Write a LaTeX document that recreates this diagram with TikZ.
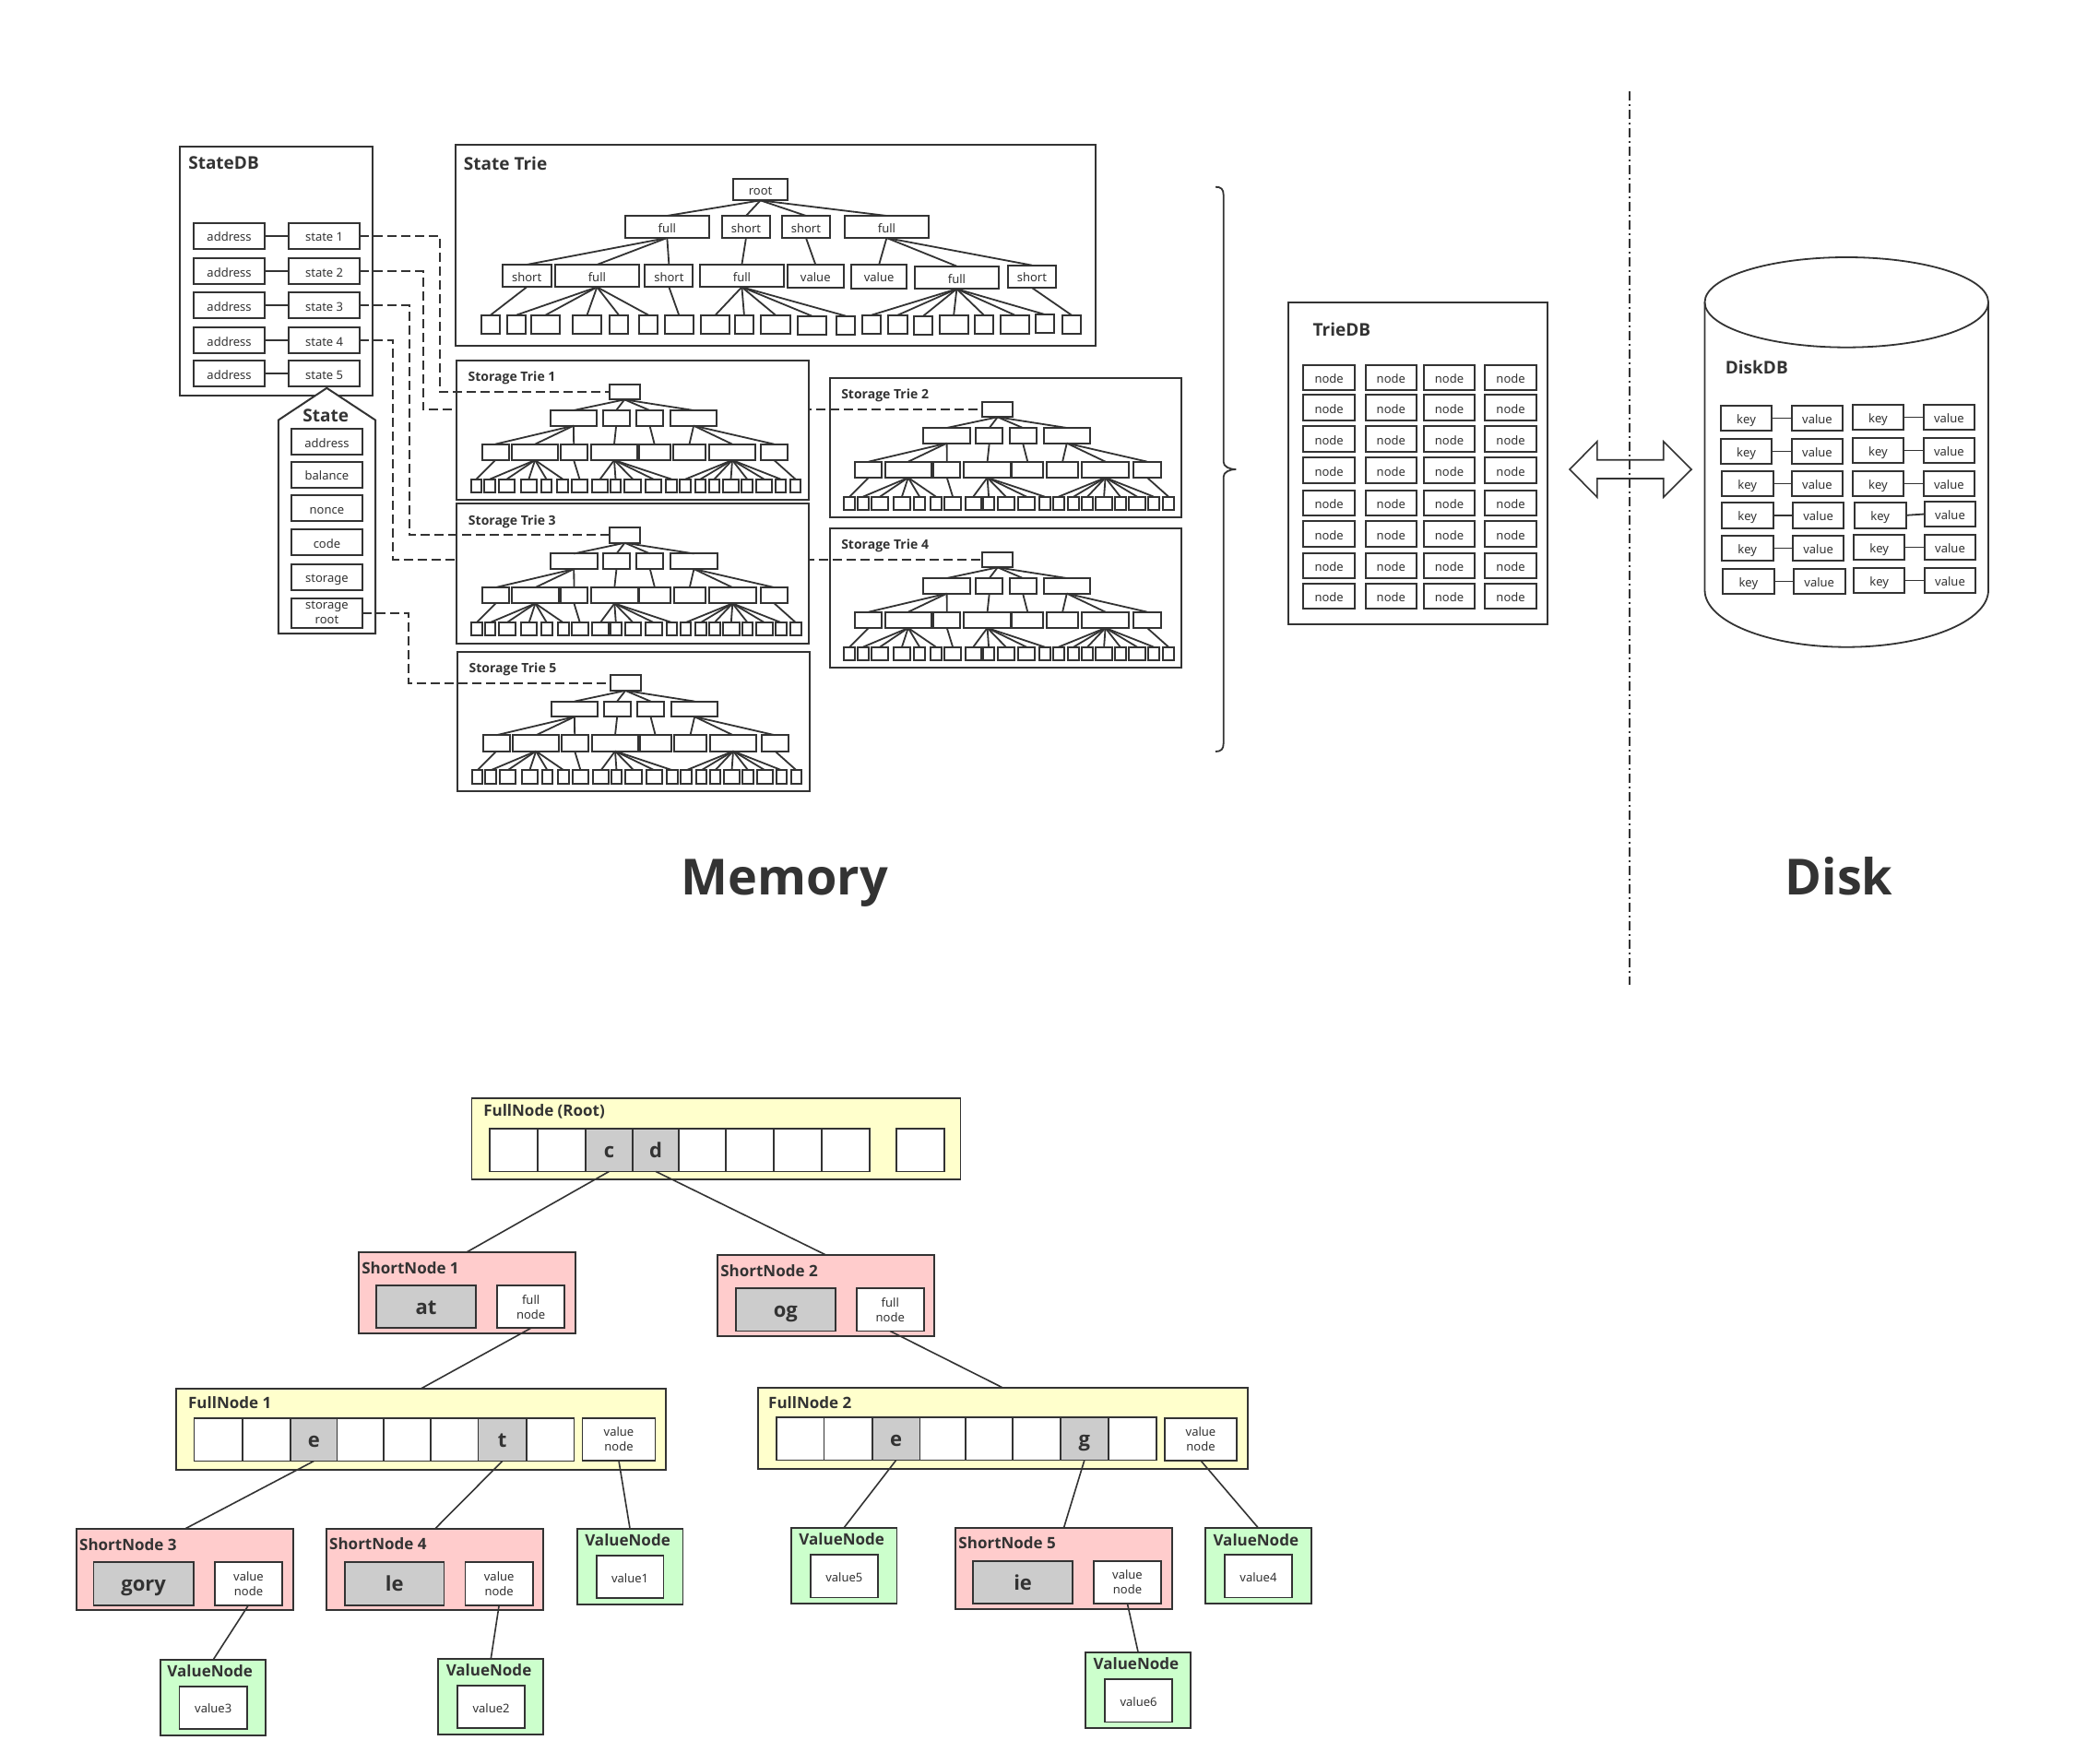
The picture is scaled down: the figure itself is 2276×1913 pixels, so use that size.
\documentclass[tikz,border=0pt]{standalone}
\usepackage{fontspec}
\setmainfont{Noto Sans}[BoldFont={Open Sans Bold}]
\definecolor{lc}{HTML}{333333}
\definecolor{yel}{HTML}{FFFFCC}
\definecolor{pnk}{HTML}{FFCCCC}
\definecolor{grn}{HTML}{CCFFCC}
\definecolor{gry}{HTML}{CCCCCC}
\tikzset{
  plainbox/.style={draw=lc,fill=white,line width=2pt,inner sep=0pt,outer sep=0pt,text=lc,align=center,font=\fontsize{13}{16}\selectfont,text height=12pt,text depth=0pt},
  framebox/.style={plainbox},
  openframe/.style={plainbox,fill=none},
  thinbox/.style={plainbox,line width=1.8pt},
  twoline/.style={plainbox,text height=,text depth=},
  twothin/.style={thinbox,text height=,text depth=},
  yelbox/.style={thinbox,fill=yel},
  pnkbox/.style={thinbox,fill=pnk},
  grnbox/.style={thinbox,fill=grn},
  graybox/.style={thinbox,fill=gry,font=\fontsize{22}{26}\selectfont\bfseries,text height=17pt,text depth=0pt},
  edge/.style={draw=lc,line width=1.8pt},
  thinedge/.style={draw=lc,line width=1.6pt},
  dashline/.style={draw=lc,line width=2pt,dash pattern=on 10pt off 5pt},
  titleA/.style={inner sep=0pt,outer sep=0pt,text=lc,font=\fontsize{19}{22}\selectfont\bfseries},
  titleB/.style={inner sep=0pt,outer sep=0pt,text=lc,font=\fontsize{14}{16}\selectfont\bfseries},
  titleC/.style={inner sep=0pt,outer sep=0pt,text=lc,font=\fontsize{17}{20}\selectfont\bfseries},
  bigtitle/.style={inner sep=0pt,outer sep=0pt,text=lc,font=\fontsize{54}{60}\selectfont\bfseries},
}
% zoom mapping: \setzoom{fx}{fy}{ox}{oy}
\newcommand{\setzoom}[4]{\def\zx{#1}\def\zy{#2}\def\ox{#3}\def\oy{#4}}
\newcommand{\bxx}[7][plainbox]{\def\bxtext{#7}\bxinner[#1]{#2}{#3}{#4}{#5}{#6}}
\newcommand{\bxinner}[6][plainbox]{%
  \pgfmathsetmacro\cxx{\ox+(#3+#5)/2/\zx}%
  \pgfmathsetmacro\cyy{\oy+(#4+#6)/2/\zy}%
  \pgfmathsetmacro\bww{(#5-(#3))/\zx}%
  \pgfmathsetmacro\bhh{(#6-(#4))/\zy}%
  \node[#1,minimum width=\bww pt,minimum height=\bhh pt] (#2) at (\cxx,\cyy) {\bxtext};}
\newcommand{\ttl}[5][titleC]{%
  \pgfmathsetmacro\cxx{\ox+#3/\zx}%
  \pgfmathsetmacro\cyy{\oy+#4/\zy}%
  \node[#1] (#2) at (\cxx,\cyy) {#5};}
\newcommand{\trieedges}[1]{%
  \foreach \pa/\ch in {r/a,r/b,r/c,r/d,a/l0,a/l1,a/l2,b/l3,c/l4,d/l5,d/l6,d/l7,
    l0/lf0,l1/lf1,l1/lf2,l1/lf3,l1/lf4,l1/lf5,l2/lf6,l3/lf7,l3/lf8,l3/lf9,l3/lf10,l3/lf11,
    l6/lf12,l6/lf13,l6/lf14,l6/lf15,l6/lf16,l6/lf17,l6/lf18,l7/lf19}
    {\draw[edge] (#1-\pa.south) -- (#1-\ch.north);}}
% storage trie: prefix, dx, dy, title
\newcommand{\strie}[4]{%
  \pgfmathsetmacro\sox{480+#2}\pgfmathsetmacro\soy{380+#3}%
  \setzoom{3}{3}{\sox}{\soy}%
  \bxx[framebox]{#1}{45}{33}{1190}{487}{}%
  \ttl[titleB,anchor=west]{#1-title}{83}{91}{#4}%
  \bxx{#1-r}{542}{110}{641}{160}{}%
  \foreach \n/\xa/\xb in {a/350/502,b/521/608,c/630/717,d/741/892}
    {\bxx{#1-\n}{\xa}{195}{\xb}{245}{}}%
  \foreach \n/\xa/\xb in {0/128/215,1/225/376,2/383/470,3/482/634,4/638/740,5/751/854,6/866/1018,7/1034/1122}
    {\bxx{#1-l\n}{\xa}{305}{\xb}{357}{}}%
  \foreach \n/\xa/\xb in {0/92/127,1/136/171,2/182/235,3/254/306,4/320/355,5/373/409,6/419/472,7/486/538,8/545/580,9/592/645,10/659/712,11/727/762,12/772/807,13/821/856,14/866/901,15/911/964,16/973/1008,17/1019/1072,18/1082/1117,19/1130/1165}
    {\bxx{#1-lf\n}{\xa}{419}{\xb}{462}{}}%
  \trieedges{#1}}
\begin{document}
\begin{tikzpicture}[x=1pt,y=-1pt]
\useasboundingbox (0,0) rectangle (2276,1913);

% ---------- StateDB
\setzoom{2.8}{2.703}{170}{130}
\bxx[openframe]{sdb}{70}{78}{656}{808}{}
\ttl[titleA,anchor=west]{sdbt}{96}{127}{StateDB}
\foreach \r/\ya/\yb in {1/302/379,2/405/482,3/505/582,4/608/685,5/705/782}{
  \bxx{ad\r}{112}{\ya}{328}{\yb}{address}
  \bxx{s\r}{400}{\ya}{617}{\yb}{state \r}
  \draw[edge] (ad\r.east) -- (s\r.west);
}
% State pentagon
\draw[draw=lc,fill=white,line width=2pt] (354.3,420.8) -- (407.1,455.6) -- (407.1,687.2) -- (301.8,687.2) -- (301.8,455.6) -- cycle;
\ttl[titleA]{statet}{513}{866}{State}
\bxx{fa}{408}{905}{625}{982}{address}
\bxx{fb}{408}{1002}{625}{1079}{balance}
\bxx{fn}{408}{1100}{625}{1177}{nonce}
\bxx{fc}{408}{1200}{625}{1277}{code}
\bxx{fs}{408}{1302}{625}{1379}{storage}
\bxx[twoline]{fr}{408}{1402}{625}{1488}{storage\\root}
\coordinate (c1) at (477.1,340);
\coordinate (c2) at (458.6,350);
\coordinate (c3) at (443.6,450);
\coordinate (c4) at (426.4,450);
\coordinate (c5) at (443.2,700);

% ---------- tries on the right (lines pass in front of them)
\strie{st2}{404.6}{19}{Storage Trie 2}
\strie{st4}{404.6}{182}{Storage Trie 4}
\draw[dashline] (s2.east) -| (c2) |- (st2-r.west);
\draw[dashline] (s4.east) -| (c4) |- (st4-r.west);

% ---------- tries on the left
\strie{st1}{0}{0}{Storage Trie 1}
\strie{st3}{0.3}{155.4}{Storage Trie 3}
\strie{st5}{1}{315.6}{Storage Trie 5}
\draw[dashline] (s1.east) -| (c1) |- (st1-r.west);
\draw[dashline] (s3.east) -| (c3) |- (st3-r.west);
\draw[dashline] (fr.east) -| (c5) |- (st5-r.west);

% ---------- State Trie
\setzoom{2.178}{3}{480}{140}
\bxx[framebox]{stt}{30}{50}{1542}{705}{}
\ttl[titleA,anchor=west]{sttt}{50}{112}{State Trie}
\bxx{T-r}{686}{162}{815}{232}{root}
\bxx{T-a}{431}{282}{629}{354}{full}
\bxx{T-b}{660}{282}{773}{354}{short}
\bxx{T-c}{801}{282}{915}{354}{short}
\bxx{T-d}{949}{282}{1148}{354}{full}
\bxx{T-l0}{141}{441}{256}{514}{short}
\bxx{T-l1}{265}{441}{464}{514}{full}
\bxx{T-l2}{478}{441}{591}{514}{short}
\bxx{T-l3}{607}{441}{806}{514}{full}
\bxx{T-l4}{814}{441}{947}{517}{value}
\bxx{T-l5}{965}{441}{1096}{518}{value}
\bxx{T-l6}{1115}{446}{1313}{520}{full}
\bxx{T-l7}{1334}{443}{1449}{516}{short}
\foreach \n/\xa/\xb/\ya/\yb in {0/91/135/605/666,1/152/196/605/666,2/209/277/605/666,3/307/375/605/666,4/394/438/605/666,5/464/508/605/666,6/524/592/605/666,7/610/678/605/666,8/690/734/605/666,9/752/820/605/666,10/838/906/608/668,11/930/974/608/670,12/991/1035/605/666,13/1053/1097/605/666,14/1113/1157/608/670,15/1173/1241/605/666,16/1256/1300/605/666,17/1317/1385/605/666,18/1400/1444/603/662,19/1463/1507/605/666}
  {\bxx{T-lf\n}{\xa}{\ya}{\xb}{\yb}{}}
\trieedges{T}

% ---------- Brace
\draw[draw=lc,line width=1.8pt] (1318,202.7) .. controls (1324,202.7) and (1326.7,205) .. (1326.7,211.7) -- (1326.7,501) .. controls (1326.7,506) and (1333,509) .. (1340.4,509) .. controls (1333,509) and (1326.7,512) .. (1326.7,517) -- (1326.7,806) .. controls (1326.7,812.5) and (1324,815) .. (1318,815);

% ---------- TrieDB
\setzoom{1.742}{3}{1310}{250}
\bxx[framebox]{tdb}{152}{233}{641}{1280}{}
\ttl[titleA,anchor=west]{tdbt}{198}{322}{TrieDB}
\foreach \r/\ya/\yb in {1/437/520,2/535/619,3/637/721,4/739/823,5/845/928,6/946/1030,7/1049/1132,8/1148/1231}{
  \foreach \c/\xa/\xb in {1/180/277,2/297/394,3/407/504,4/523/620}{
    \bxx{tn\r\c}{\xa}{\ya}{\xb}{\yb}{node}
  }
}

% ---------- dash-dot divider and double arrow
\coordinate (divtop) at (1766.7,98.7);
\coordinate (divbot) at (1766.7,1067.7);
\draw[draw=lc,line width=1.6pt,dash pattern=on 10pt off 4pt on 2pt off 4pt] (divtop) -- (divbot);
\draw[draw=lc,line width=1.6pt] (1702.1,509) -- (1731.9,478.7) -- (1731.9,498.7) -- (1803.7,498.7) -- (1803.7,478.7) -- (1834.1,509) -- (1803.7,539.3) -- (1803.7,519) -- (1731.9,519) -- (1731.9,539.3) -- cycle;

% ---------- DiskDB cylinder
\draw[draw=lc,line width=1.8pt] (1848.5,327.85) -- (1848.5,640) .. controls (1848.5,674.1) and (1917.35,701.7) .. (2002.25,701.7) .. controls (2087.15,701.7) and (2156,674.1) .. (2156,640) -- (2156,327.85);
\draw[draw=lc,line width=1.8pt] (2002.25,327.85) ellipse [x radius=153.75pt,y radius=48.85pt];
\ttl[titleA,anchor=west]{ddbt}{977}{445}{DiskDB}
\foreach \r/\ka/\ya/\va/\kb/\yb/\vb/\yc in {1/968/569/1102/1217/566/1351/566,2/968/677/1102/1217/674/1351/674,3/970/782/1102/1217/782/1351/782,4/970/885/1104/1221/885/1353/881,5/970/992/1104/1219/989/1353/989,6/972/1100/1106/1219/1097/1353/1097}{
  \bxx{ka\r}{\ka}{\ya}{\ka+97}{\ya+83}{key}
  \bxx{va\r}{\va}{\ya}{\va+97}{\ya+83}{value}
  \bxx{kb\r}{\kb}{\yb}{\kb+97}{\yb+83}{key}
  \bxx{vb\r}{\vb}{\yc}{\vb+97}{\yc+83}{value}
  \draw[edge] (ka\r.east) -- (va\r.west);
  \draw[edge] (kb\r.east) -- (vb\r.west);
}

% ---------- big titles
\node[bigtitle,anchor=base] (memt) at (850.5,970) {Memory};
\node[bigtitle,anchor=base] (dskt) at (1994,970) {Disk};

% ---------- lower tree, left part
\setzoom{1.568}{2.178}{60}{1180}
\bxx[yelbox]{fr0}{708}{24}{1539}{216}{}
\ttl[titleC,anchor=west]{fr0t}{728}{55}{FullNode (Root)}
\foreach \n/\xa/\xb/\st/\txt in {1/738/820/thinbox/{},2/820/901/thinbox/{},3/901/982/graybox/c,4/982/1060/graybox/d,5/1060/1140/thinbox/{},6/1140/1221/thinbox/{},7/1221/1303/thinbox/{},8/1303/1384/thinbox/{},9/1430/1511/thinbox/{}}
  {\bxx[\st]{rc\n}{\xa}{96}{\xb}{197}{\txt}}

\bxx[pnkbox]{sn1}{516}{387}{884}{579}{}
\ttl[titleC,anchor=west]{sn1t}{521}{425}{ShortNode 1}
\bxx[graybox]{sn1k}{546}{466}{715}{567}{at}
\bxx[twothin]{sn1v}{751}{466}{866}{567}{full\\node}

\bxx[pnkbox]{sn2}{1126}{394}{1494}{586}{}
\ttl[titleC,anchor=west]{sn2t}{1131}{431}{ShortNode 2}
\bxx[graybox]{sn2k}{1157}{472}{1326}{574}{og}
\bxx[twothin]{sn2v}{1362}{472}{1477}{574}{full\\node}

\bxx[yelbox]{fn1}{205}{710}{1038}{902}{}
\ttl[titleC,anchor=west]{fn1t}{226}{743}{FullNode 1}
\foreach \n/\xa/\xb/\st/\txt in {1/236/318/thinbox/{},2/318/400/thinbox/{},3/400/479/graybox/e,4/479/558/thinbox/{},5/558/638/thinbox/{},6/638/719/thinbox/{},7/719/801/graybox/t,8/801/882/thinbox/{}}
  {\bxx[\st]{oc\n}{\xa}{779}{\xb}{881}{\txt}}
\bxx[twothin]{fn1v}{896}{779}{1020}{880}{value\\node}

\bxx[pnkbox]{sn3}{36}{1041}{405}{1233}{}
\ttl[titleC,anchor=west]{sn3t}{41}{1078}{ShortNode 3}
\bxx[graybox]{sn3k}{65}{1119}{235}{1221}{gory}
\bxx[twothin]{sn3v}{271}{1119}{386}{1221}{value\\node}

\bxx[pnkbox]{sn4}{461}{1041}{830}{1233}{}
\ttl[titleC,anchor=west]{sn4t}{466}{1076}{ShortNode 4}
\bxx[graybox]{sn4k}{492}{1119}{661}{1221}{le}
\bxx[twothin]{sn4v}{697}{1119}{812}{1221}{value\\node}

\bxx[grnbox]{vn1}{887}{1041}{1067}{1220}{}
\ttl{vn1t}{973}{1067}{ValueNode}
\bxx[thinbox]{vn1i}{920}{1104}{1034}{1205}{value1}

\bxx[grnbox]{vn3}{179}{1350}{358}{1529}{}
\ttl{vn3t}{263}{1376}{ValueNode}
\bxx[thinbox]{vn3i}{211}{1413}{326}{1514}{value3}

\bxx[grnbox]{vn2}{651}{1348}{830}{1527}{}
\ttl{vn2t}{737}{1374}{ValueNode}
\bxx[thinbox]{vn2i}{684}{1411}{798}{1512}{value2}

% ---------- lower tree, right part
\setzoom{2.24}{2.8}{760}{1340}
\bxx[yelbox]{fn2}{139}{462}{1328}{709}{}
\ttl[titleC,anchor=west]{fn2t}{164}{507}{FullNode 2}
\foreach \n/\xa/\xb/\st/\txt in {1/183/299/thinbox/{},2/299/416/thinbox/{},3/416/532/graybox/e,4/532/643/thinbox/{},5/643/757/thinbox/{},6/757/873/thinbox/{},7/873/990/graybox/g,8/990/1106/thinbox/{}}
  {\bxx[\st]{tc\n}{\xa}{552}{\xb}{682}{\txt}}
\bxx[twothin]{fn2v}{1126}{554}{1302}{683}{value\\node}

\bxx[grnbox]{vn5}{219}{887}{476}{1117}{}
\ttl{vn5t}{342}{921}{ValueNode}
\bxx[thinbox]{vn5i}{266}{968}{430}{1099}{value5}

\bxx[pnkbox]{sn5}{618}{887}{1145}{1135}{}
\ttl[titleC,anchor=west]{sn5t}{626}{932}{ShortNode 5}
\bxx[graybox]{sn5k}{661}{988}{903}{1117}{ie}
\bxx[twothin]{sn5v}{954}{988}{1118}{1118}{value\\node}

\bxx[grnbox]{vn4}{1225}{887}{1482}{1117}{}
\ttl{vn4t}{1348}{924}{ValueNode}
\bxx[thinbox]{vn4i}{1272}{968}{1436}{1099}{value4}

\bxx[grnbox]{vn6}{934}{1265}{1190}{1496}{}
\ttl{vn6t}{1057}{1299}{ValueNode}
\bxx[thinbox]{vn6i}{981}{1347}{1145}{1477}{value6}

% ---------- lower connectors
\draw[thinedge] (rc3.south) -- (sn1.north);
\draw[thinedge] (rc4.south) -- (sn2.north);
\draw[thinedge] (sn1v.south) -- (fn1.north);
\draw[thinedge] (sn2v.south) -- (fn2.north);
\draw[thinedge] (oc3.south) -- (sn3.north);
\draw[thinedge] (oc7.south) -- (sn4.north);
\draw[thinedge] (fn1v.south) -- (vn1.north);
\draw[thinedge] (sn3v.south) -- (vn3.north);
\draw[thinedge] (sn4v.south) -- (vn2.north);
\draw[thinedge] (tc3.south) -- (vn5.north);
\draw[thinedge] (tc7.south) -- (sn5.north);
\draw[thinedge] (fn2v.south) -- (vn4.north);
\draw[thinedge] (sn5v.south) -- (vn6.north);
\end{tikzpicture}
\end{document}
